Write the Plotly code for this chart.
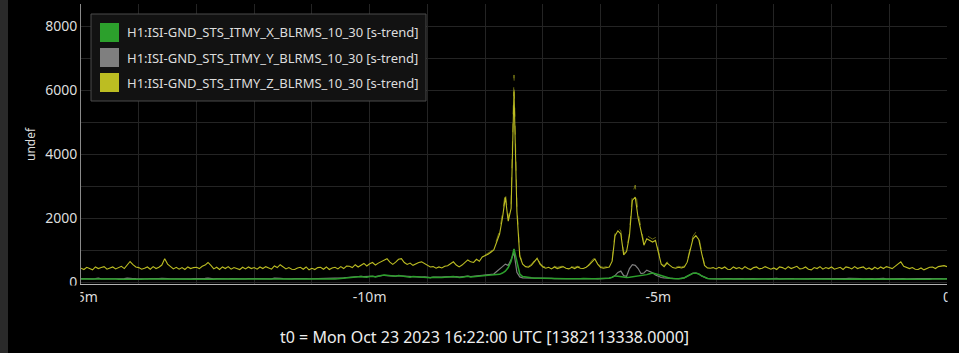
import plotly.graph_objects as go

# ---------------- data ----------------
channel_names = [
    "H1:ISI-GND_STS_ITMY_X_BLRMS_10_30 [s-trend]",
    "H1:ISI-GND_STS_ITMY_Y_BLRMS_10_30 [s-trend]",
    "H1:ISI-GND_STS_ITMY_Z_BLRMS_10_30 [s-trend]",
]
channel_colors = ["#2ca02c", "#7f7f7f", "#bcbd22"]

# sample times, seconds relative to t0 (3 s spacing)
t_sec = list(range(-900, 1, 3))

z_mean = [
    430, 390, 460, 410, 380, 470, 420, 450, 480, 400, 440, 470, 410, 450, 490, 420, 530, 640, 540, 470,
    450, 400, 430, 470, 400, 480, 420, 460, 530, 730, 560, 470, 410, 460, 400, 450, 390, 470, 420, 450,
    460, 420, 490, 530, 610, 520, 410, 460, 390, 470, 420, 480, 400, 450, 420, 390, 460, 410, 470, 420,
    450, 400, 470, 420, 480, 440, 400, 500, 450, 540, 460, 410, 450, 400, 390, 440, 460, 400, 470, 380,
    430, 390, 450, 460, 400, 470, 390, 440, 460, 410, 480, 420, 500, 490, 450, 540, 470, 520, 580, 500,
    570, 610, 530, 590, 640, 670, 730, 620, 550, 620, 710, 730, 610, 550, 590, 520, 570, 610, 630, 570,
    510, 470, 480, 430, 470, 440, 490, 510, 570, 630, 530, 470, 530, 610, 690, 630, 610, 710, 650, 780,
    820, 870, 930, 1000, 1250, 1500, 2000, 2650, 1900, 2300, 5950, 2200, 800, 560, 480, 460, 520, 640, 740, 560,
    470, 430, 460, 410, 470, 420, 460, 480, 430, 410, 460, 420, 470, 430, 420, 460, 530, 640, 720, 560,
    450, 430, 440, 470, 650, 1450, 1600, 1500, 850, 950, 1450, 2550, 2650, 2000, 1600, 1150, 1350, 1300, 1250, 1300,
    900, 560, 480, 590, 520, 450, 430, 460, 440, 470, 620, 1000, 1350, 1450, 1330, 900, 520, 440, 430, 450,
    410, 460, 420, 470, 400, 390, 470, 420, 450, 400, 480, 420, 390, 450, 470, 410, 430, 480, 440, 400,
    440, 390, 470, 450, 400, 480, 420, 450, 490, 410, 420, 470, 400, 380, 450, 420, 480, 400, 450, 420,
    470, 400, 430, 460, 390, 470, 450, 410, 480, 420, 450, 470, 400, 440, 390, 460, 410, 470, 420, 480,
    450, 420, 490, 570, 630, 490, 460, 420, 450, 400, 390, 440, 380, 420, 460, 470, 420, 480, 490, 510,
    480,
]

# max trend of Z over the active stretch (samples 140..216)
z_max_t = t_sec[140:217]
z_max = [
    850, 900, 960, 1050, 1300, 1600, 2150, 2800, 2000, 2450, 6470, 2400, 850, 600, 510, 490, 550, 680, 780, 600,
    490, 470, 480, 450, 490, 460, 480, 500, 470, 450, 480, 460, 490, 470, 460, 480, 550, 680, 760, 600,
    480, 460, 470, 500, 700, 1550, 1700, 1600, 900, 1000, 1550, 2750, 3030, 2150, 1700, 1230, 1450, 1400, 1340, 1390,
    960, 600, 510, 630, 550, 480, 460, 490, 470, 500, 660, 1070, 1430, 1560, 1420, 960, 560,
]

x_mean = [
    90, 92, 88, 90, 91, 89, 90, 93, 90, 88, 90, 91, 90, 89, 92, 90, 95, 100, 94, 90,
    90, 89, 91, 90, 88, 90, 92, 90, 89, 91, 93, 90, 89, 90, 91, 88, 90, 92, 90, 89,
    90, 91, 89, 90, 92, 90, 88, 90, 91, 89, 90, 92, 90, 89, 90, 91, 90, 88, 90, 91,
    90, 89, 91, 90, 92, 90, 89, 90, 91, 90, 88, 90, 92, 90, 89, 91, 90, 90, 89, 91,
    90, 92, 90, 89, 91, 90, 88, 90, 95, 100, 110, 120, 130, 140, 150, 160, 150, 170, 160, 150,
    170, 180, 160, 190, 200, 220, 210, 190, 170, 180, 200, 190, 170, 160, 150, 170, 160, 150, 140, 150,
    140, 130, 150, 140, 130, 140, 150, 160, 150, 170, 160, 140, 150, 170, 180, 160, 170, 190, 180, 200,
    205, 210, 215, 220, 230, 240, 280, 340, 450, 650, 1030, 600, 250, 170, 150, 140, 130, 120, 130, 120,
    120, 115, 110, 110, 105, 110, 100, 105, 100, 100, 95, 100, 105, 100, 110, 100, 100, 100, 100, 100,
    100, 105, 110, 120, 150, 190, 180, 160, 150, 140, 150, 160, 170, 180, 190, 200, 230, 260, 280, 260,
    230, 190, 160, 140, 120, 110, 100, 105, 110, 130, 180, 230, 270, 280, 250, 190, 140, 110, 100, 95,
    90, 92, 90, 89, 91, 90, 88, 90, 91, 90, 92, 90, 89, 90, 91, 90, 88, 90, 92, 90,
    89, 91, 90, 90, 88, 90, 92, 90, 89, 91, 90, 90, 92, 90, 89, 90, 91, 90, 88, 90,
    91, 90, 89, 92, 90, 90, 88, 91, 90, 89, 90, 92, 90, 91, 89, 90, 90, 88, 91, 90,
    92, 90, 89, 90, 91, 90, 88, 90, 92, 90, 89, 91, 90, 90, 88, 90, 91, 90, 89, 90,
    90,
]

y_mean = [
    105, 100, 110, 104, 98, 106, 120, 102, 100, 108, 104, 99, 112, 105, 100, 106, 118, 125, 110, 104,
    100, 108, 104, 98, 110, 105, 100, 106, 115, 122, 108, 102, 99, 106, 104, 100, 110, 104, 98, 106,
    104, 100, 108, 112, 120, 106, 100, 104, 98, 110, 104, 100, 106, 102, 98, 108, 104, 100, 106, 104,
    100, 106, 110, 104, 98, 106, 100, 118, 104, 112, 106, 100, 104, 98, 106, 110, 104, 100, 108, 102,
    104, 98, 106, 100, 110, 104, 98, 106, 110, 115, 125, 130, 140, 150, 160, 155, 160, 175, 165, 160,
    175, 180, 170, 185, 200, 210, 200, 190, 175, 185, 195, 190, 175, 165, 160, 170, 165, 160, 150, 160,
    150, 140, 155, 150, 140, 150, 160, 165, 160, 175, 165, 150, 160, 175, 185, 170, 180, 195, 190, 210,
    215, 220, 225, 250, 330, 420, 480, 560, 520, 700, 920, 300, 160, 130, 130, 125, 120, 115, 125, 115,
    115, 110, 108, 112, 104, 110, 100, 106, 102, 104, 98, 104, 108, 102, 112, 104, 106, 102, 104, 100,
    104, 108, 112, 120, 150, 200, 300, 340, 200, 180, 420, 540, 520, 420, 260, 280, 370, 330, 290, 220,
    170, 140, 130, 120, 115, 110, 104, 108, 112, 130, 180, 240, 280, 280, 250, 190, 140, 115, 106, 100,
    104, 108, 100, 106, 112, 104, 98, 106, 110, 104, 100, 108, 115, 104, 100, 106, 110, 102, 98, 106,
    104, 112, 100, 106, 104, 98, 110, 104, 100, 106, 112, 104, 98, 106, 104, 110, 100, 104, 108, 102,
    106, 100, 110, 104, 98, 106, 112, 104, 100, 108, 104, 98, 106, 110, 104, 100, 106, 104, 112, 100,
    104, 108, 100, 106, 110, 104, 98, 106, 104, 100, 110, 104, 98, 106, 104, 108, 100, 104, 106, 102,
    104,
]

x_tick_vals = [-15, -10, -5, 0]
x_tick_text = ["-15m", "-10m", "-5m", "0"]
y_tick_vals = [0, 2000, 4000, 6000, 8000]
y_axis_label = "undef"
t0_label = "t0 = Mon Oct 23 2023 16:22:00 UTC [1382113338.0000]"

# ---------------- figure ----------------
FONT = "Noto Sans, Open Sans, DejaVu Sans, sans-serif"
W, H = 959, 353
ML, MR, MT, MB = 81, 12, 4, 69
PW, PH = W - ML - MR, H - MT - MB


def px(xp):
    return (xp - ML) / PW


def py(yp):
    return (H - MB - yp) / PH


t_min = [s / 60 for s in t_sec]
t_max_min = [s / 60 for s in z_max_t]

fig = go.Figure()
fig.add_trace(go.Scatter(x=t_max_min, y=z_max, mode="lines",
                         line=dict(color="rgba(188,189,34,0.55)", width=1, dash="dash"),
                         showlegend=False, hoverinfo="skip"))
fig.add_trace(go.Scatter(x=t_min, y=z_mean, mode="lines", name=channel_names[2],
                         line=dict(color=channel_colors[2], width=1.1), showlegend=False))
fig.add_trace(go.Scatter(x=t_min, y=y_mean, mode="lines", name=channel_names[1],
                         line=dict(color=channel_colors[1], width=1.2), showlegend=False))
fig.add_trace(go.Scatter(x=t_min, y=x_mean, mode="lines", name=channel_names[0],
                         line=dict(color=channel_colors[0], width=1.5), showlegend=False))

grid_col = "#242424"
fig.update_layout(
    width=W, height=H,
    margin=dict(l=ML, r=MR, t=MT, b=MB, pad=0),
    paper_bgcolor="#000000", plot_bgcolor="#000000",
    font=dict(family=FONT, color="#dddddd", size=14),
    showlegend=False,
    xaxis=dict(range=[-15, 0], tickmode="array", tickvals=x_tick_vals, ticktext=x_tick_text,
               showgrid=True, gridcolor=grid_col, gridwidth=1, zeroline=False,
               showline=True, linecolor="#b0b0b0", linewidth=1, ticks="",
               tickfont=dict(size=14, color="#dddddd"),
               minor=dict(tickmode="linear", tick0=0, dtick=1, showgrid=True, gridcolor=grid_col)),
    yaxis=dict(range=[-62.5, 8687.5], tickmode="array", tickvals=y_tick_vals,
               showgrid=True, gridcolor=grid_col, gridwidth=1, zeroline=False,
               showline=True, linecolor="#8a8a8a", linewidth=1, ticks="",
               tickfont=dict(size=14, color="#dddddd"),
               minor=dict(tickmode="linear", tick0=0, dtick=1000, showgrid=True, gridcolor=grid_col)),
)

shapes = []
# grey strip at far left
shapes.append(dict(type="rect", xref="paper", yref="paper", x0=px(0), x1=px(8), y0=py(H), y1=py(0),
                   fillcolor="#2a2a2a", line=dict(width=0), layer="below"))
# clip tick labels outside plot width (black masks)
shapes.append(dict(type="rect", xref="paper", yref="paper", x0=px(8), x1=px(80.4), y0=py(325), y1=py(285.5),
                   fillcolor="#000000", line=dict(width=0), layer="above"))
shapes.append(dict(type="rect", xref="paper", yref="paper", x0=px(947.6), x1=px(W), y0=py(325), y1=py(285.5),
                   fillcolor="#000000", line=dict(width=0), layer="above"))
# legend box
shapes.append(dict(type="rect", xref="paper", yref="paper", x0=px(91), x1=px(426), y0=py(101), y1=py(14),
                   fillcolor="#121212", line=dict(color="#4a4a4a", width=1), layer="above"))

annotations = []
row_tops = [23, 48, 73]
for name, col, top in zip(channel_names, channel_colors, row_tops):
    shapes.append(dict(type="rect", xref="paper", yref="paper", x0=px(100), x1=px(119),
                       y0=py(top + 19), y1=py(top), fillcolor=col, line=dict(width=0), layer="above"))
    annotations.append(dict(xref="paper", yref="paper", x=px(125), y=py(top + 9.5), text=name,
                            showarrow=False, xanchor="left", yanchor="middle",
                            font=dict(family=FONT, size=13, color="#dddddd")))

annotations.append(dict(xref="paper", yref="paper", x=px(30.5), y=py(144.5), text=y_axis_label,
                        textangle=-90, showarrow=False, xanchor="center", yanchor="middle",
                        font=dict(family=FONT, size=12, color="#dddddd")))
annotations.append(dict(xref="paper", yref="paper", x=px(484), y=py(337), text=t0_label,
                        showarrow=False, xanchor="center", yanchor="middle",
                        font=dict(family=FONT, size=16, color="#eeeeee")))

fig.update_layout(shapes=shapes, annotations=annotations)
fig.write_html("out.html")
